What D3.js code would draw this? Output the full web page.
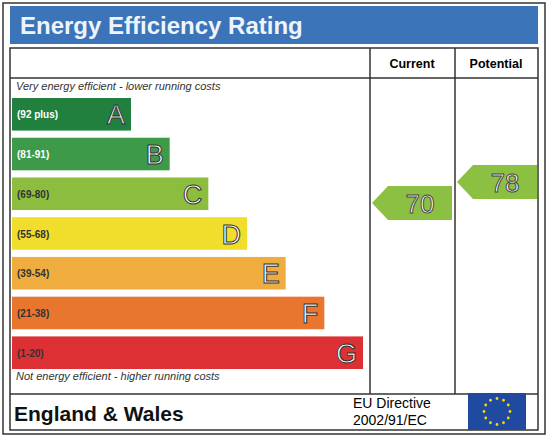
<!DOCTYPE html>
<html><head><meta charset="utf-8">
<script src="https://cdn.jsdelivr.net/npm/d3@7"></script>
<style>body{margin:0;background:#fff}text{font-family:"Liberation Sans",Arial,sans-serif}</style>
</head><body><svg id="c" width="548" height="437"></svg>
<script>
const bands = ["A","B","C","D","E","F","G"];
const ranges = ["(92 plus)","(81-91)","(69-80)","(55-68)","(39-54)","(21-38)","(1-20)"];
const colors = ["#21803e","#3c9a48","#8dbd3f","#f0dd2c","#eead3e","#e8762f","#dc3034"];
const currentValue = [70];
const potentialValue = [78];
const svg = d3.select("#c");
const band = d3.scaleBand().domain(bands).range([98,369]).paddingInner(0.18);
const widthScale = d3.scaleLinear().domain([0,6]).range([131,363]);
const scoreY = d3.scaleLinear().domain([70,78]).range([203,182]);

svg.append("rect").attr("x",3).attr("y",3).attr("width",542).attr("height",431).attr("fill","#fff").attr("stroke","#333").attr("stroke-width",1.5);
svg.append("rect").attr("x",10).attr("y",6).attr("width",528).attr("height",38).attr("fill","#3b74b9");
svg.append("text").attr("x",20).attr("y",34).attr("fill","#eef4fa").attr("font-size",24).attr("font-weight","bold").text("Energy Efficiency Rating");
svg.append("rect").attr("x",10).attr("y",48).attr("width",528).attr("height",382).attr("fill","none").attr("stroke","#333").attr("stroke-width",1.5);
[[10,538,78],[10,538,394]].forEach(([a,b,y])=>svg.append("line").attr("x1",a).attr("x2",b).attr("y1",y).attr("y2",y).attr("stroke","#333").attr("stroke-width",1.5));
[370,455].forEach(x=>svg.append("line").attr("x1",x).attr("x2",x).attr("y1",48).attr("y2",394).attr("stroke","#333").attr("stroke-width",1.5));
svg.append("text").attr("x",412).attr("y",68).attr("text-anchor","middle").attr("font-size",12.5).attr("font-weight","bold").text("Current");
svg.append("text").attr("x",496).attr("y",68).attr("text-anchor","middle").attr("font-size",12.5).attr("font-weight","bold").text("Potential");
svg.append("text").attr("x",16).attr("y",90).attr("font-size",11).attr("font-style","italic").attr("fill","#333").text("Very energy efficient - lower running costs");
svg.append("text").attr("x",16).attr("y",380).attr("font-size",11).attr("font-style","italic").attr("fill","#333").text("Not energy efficient - higher running costs");

const g = svg.selectAll("g.bar").data(bands).enter().append("g");
g.append("rect").attr("x",12).attr("y",d=>band(d)).attr("height",band.bandwidth())
 .attr("width",(d,i)=>widthScale(i)-12).attr("fill",(d,i)=>colors[i]);
g.append("text").attr("x",17).attr("y",d=>band(d)+band.bandwidth()/2+4).attr("font-size",10).attr("font-weight","bold")
 .attr("fill",(d,i)=>i<2?"#fff":"#333").text((d,i)=>ranges[i]);
g.append("text").attr("x",(d,i)=>widthScale(i)-6).attr("y",d=>band(d)+band.bandwidth()/2+10).attr("text-anchor","end")
 .attr("font-size",27).attr("fill","#fff").attr("stroke","#333").attr("stroke-width",1).text(d=>d);

function arrow(v,x0,x1){
  const y=scoreY(v),h=17;
  svg.append("path").attr("d",`M${x0},${y}L${x0+16},${y-h}L${x1},${y-h}L${x1},${y+h}L${x0+16},${y+h}Z`).attr("fill","#8cc043");
  svg.append("text").attr("x",(x0+x1)/2+8).attr("y",y+10).attr("text-anchor","middle").attr("font-size",26)
   .attr("fill","#fff").attr("stroke","#444").attr("stroke-width",1).text(v);
}
arrow(currentValue[0],372,452);
arrow(potentialValue[0],457,537);

svg.append("text").attr("x",14).attr("y",421).attr("font-size",21).attr("font-weight","bold").attr("fill","#111").text("England & Wales");
svg.append("text").attr("x",353).attr("y",408).attr("font-size",14).text("EU Directive");
svg.append("text").attr("x",353).attr("y",425).attr("font-size",14).text("2002/91/EC");
svg.append("rect").attr("x",468).attr("y",393).attr("width",58).attr("height",37).attr("fill","#1f4aa0");
const stars=d3.range(12).map(i=>i*Math.PI/6);
svg.selectAll("circle.s").data(stars).enter().append("circle").attr("cx",a=>497+13*Math.cos(a)).attr("cy",a=>411.5+13*Math.sin(a)).attr("r",1.4).attr("fill","#f5d90a");
</script></body></html>
